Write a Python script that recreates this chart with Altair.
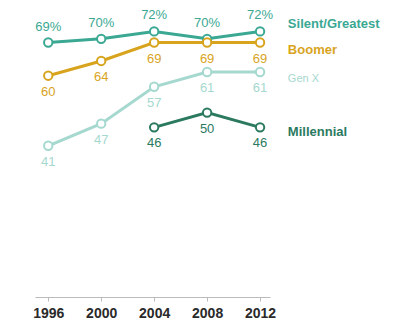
import altair as alt
import pandas as pd

years = [1996, 2000, 2004, 2008, 2012]
silent = [69, 70, 72, 70, 72]
boomer = [60, 64, 69, 69, 69]
genx = [41, 47, 57, 61, 61]
mill_years = [2004, 2008, 2012]
millennial = [46, 50, 46]

series_names = ["Silent/Greatest", "Boomer", "Gen X", "Millennial"]
colors = ["#3aa893", "#d8a41e", "#a5d8cf", "#2b7a5f"]

rows = []
for y, v in zip(years, silent):
    rows.append({"year": y, "value": v, "series": "Silent/Greatest", "label": f"{v}%", "pos": "above"})
for y, v in zip(years, boomer):
    rows.append({"year": y, "value": v, "series": "Boomer", "label": str(v), "pos": "below"})
for y, v in zip(years, genx):
    rows.append({"year": y, "value": v, "series": "Gen X", "label": str(v), "pos": "below"})
for y, v in zip(mill_years, millennial):
    rows.append({"year": y, "value": v, "series": "Millennial", "label": str(v), "pos": "below"})
df = pd.DataFrame(rows)

name_series = ["Silent/Greatest", "Boomer", "Gen X", "Millennial"]
name_ypos = [73.9, 67.1, 59.0, 44.8]
name_bold = [True, True, False, True]
names = pd.DataFrame({"series": name_series, "ypos": name_ypos, "bold": name_bold})
names["year"] = 2014.1

cscale = alt.Scale(domain=series_names, range=colors)
x = alt.X("year:Q", scale=alt.Scale(domain=[1995, 2012.75], nice=False, zero=False),
          axis=alt.Axis(values=years, format="d", title=None, grid=False, domain=True,
                        domainColor="#bbbbbb", tickColor="#bbbbbb", tickSize=4,
                        labelFontSize=14, labelColor="#2a2a2a", labelFont="Liberation Sans",
                        labelPadding=5, labelFontWeight="bold"))
y = alt.Y("value:Q", scale=alt.Scale(domain=[0, 77], nice=False), axis=None)
color = alt.Color("series:N", scale=cscale, legend=None)

base = alt.Chart(df)
lines = base.mark_line(strokeWidth=3).encode(x=x, y=y, color=color, detail="series:N")
pts = base.mark_point(filled=False, fill="white", fillOpacity=1, size=70, strokeWidth=2, opacity=1).encode(
    x=x, y=y, stroke=alt.Stroke("series:N", scale=cscale, legend=None))
above = base.transform_filter(alt.datum.pos == "above").mark_text(
    dy=-16, fontSize=13, font="Liberation Sans").encode(x=x, y=y, text="label:N", color=color)
below = base.transform_filter(alt.datum.pos == "below").mark_text(
    dy=16, fontSize=13, font="Liberation Sans").encode(x=x, y=y, text="label:N", color=color)

name_bold_text = alt.Chart(names).transform_filter(alt.datum.bold).mark_text(
    align="left", fontSize=13, font="Liberation Sans", fontWeight="bold").encode(
    x=alt.X("year:Q"), y=alt.Y("ypos:Q"), text="series:N", color=color)
name_plain_text = alt.Chart(names).transform_filter(~alt.datum.bold).mark_text(
    align="left", fontSize=11, font="Liberation Sans").encode(
    x=alt.X("year:Q"), y=alt.Y("ypos:Q"), text="series:N", color=color)

chart = alt.layer(lines, pts, above, below, name_bold_text, name_plain_text).properties(
    width=235, height=284, padding={"left": 24, "top": 1, "right": 5, "bottom": 5},
    background="white"
).configure_view(stroke=None)

chart.save("out.html", embed_options={"renderer": "svg", "actions": False})
